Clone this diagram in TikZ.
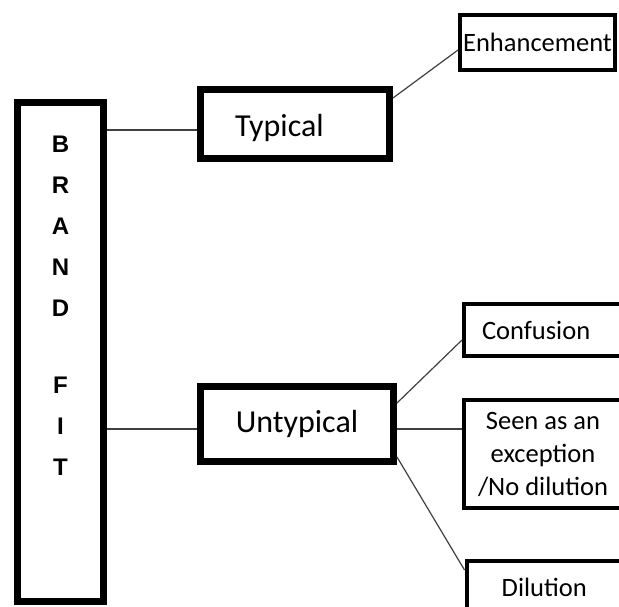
\documentclass[tikz,border=0pt]{standalone}
\usepackage{fontspec}
\setmainfont{Carlito}
\newfontfamily\lettersfont{Liberation Sans}
\begin{document}
\begin{tikzpicture}[x=1pt,y=-1pt,
  thickbox/.style={draw, line width=7pt, inner sep=0pt},
  thinbox/.style={draw, line width=4pt, inner sep=0pt},
  link/.style={draw=black!75, line width=1.2pt},
  bigtext/.style={font=\fontsize{32}{36}\selectfont},
  smalltext/.style={font=\fontsize{26.5}{33}\selectfont}]
\useasboundingbox (0,0) rectangle (619,607);
\fill[white] (0,0) rectangle (619,607);
\clip (0,0) rectangle (619,607);

% tall left box with the spelled-out title
\node[thickbox, minimum width=86pt, minimum height=499pt] (brand) at (60.5,352) {};
\node[font=\lettersfont\bfseries\fontsize{24}{41}\selectfont, align=center, inner sep=0pt]
  (letters) at (60.5,306) {B\\R\\A\\N\\D\\[36pt]F\\I\\T};

% middle column
\node[thickbox, bigtext, minimum width=189pt, minimum height=69pt,
      text height=30pt, text depth=4pt,
      align=left, text width=120pt, inner xsep=34.5pt] (typ) at (295,124) {Typical};
\node[thickbox, bigtext, minimum width=193pt, minimum height=75pt] (unt) at (297,424) {Untypical};

% outcome boxes on the right
\node[thinbox, smalltext, minimum width=155pt, minimum height=55pt] (enh) at (537.5,42.5) {Enhancement};
\node[thinbox, smalltext, minimum width=158pt, minimum height=52pt,
      align=left, text width=122pt, inner xsep=18pt] (conf) at (543,330) {Confusion};
\node[thinbox, smalltext, minimum width=158pt, minimum height=108pt, align=center]
  (seen) at (543,454) {Seen as an\\exception\\/No dilution};
\node[thinbox, smalltext, minimum width=155.5pt, minimum height=52pt] (dil) at (544.25,587) {Dilution};

% connectors
\coordinate (j1) at ([yshift=-6pt]typ.west);
\coordinate (j2) at ([yshift=-5pt]unt.west);
\draw[link] (brand.east |- j1) -- (j1);
\draw[link] (brand.east |- j2) -- (j2);
\draw[link] ([yshift=-12pt]typ.north east) -- ([yshift=-7.5pt]enh.west);
\draw[link] ([yshift=21pt]unt.east) -- ([yshift=-10pt]conf.west);
\draw[link] (unt.east |- j2) -- (seen.west |- j2);
\draw[link] ([yshift=8pt]unt.south east) -- ([yshift=-11pt]dil.north west);
\end{tikzpicture}
\end{document}
